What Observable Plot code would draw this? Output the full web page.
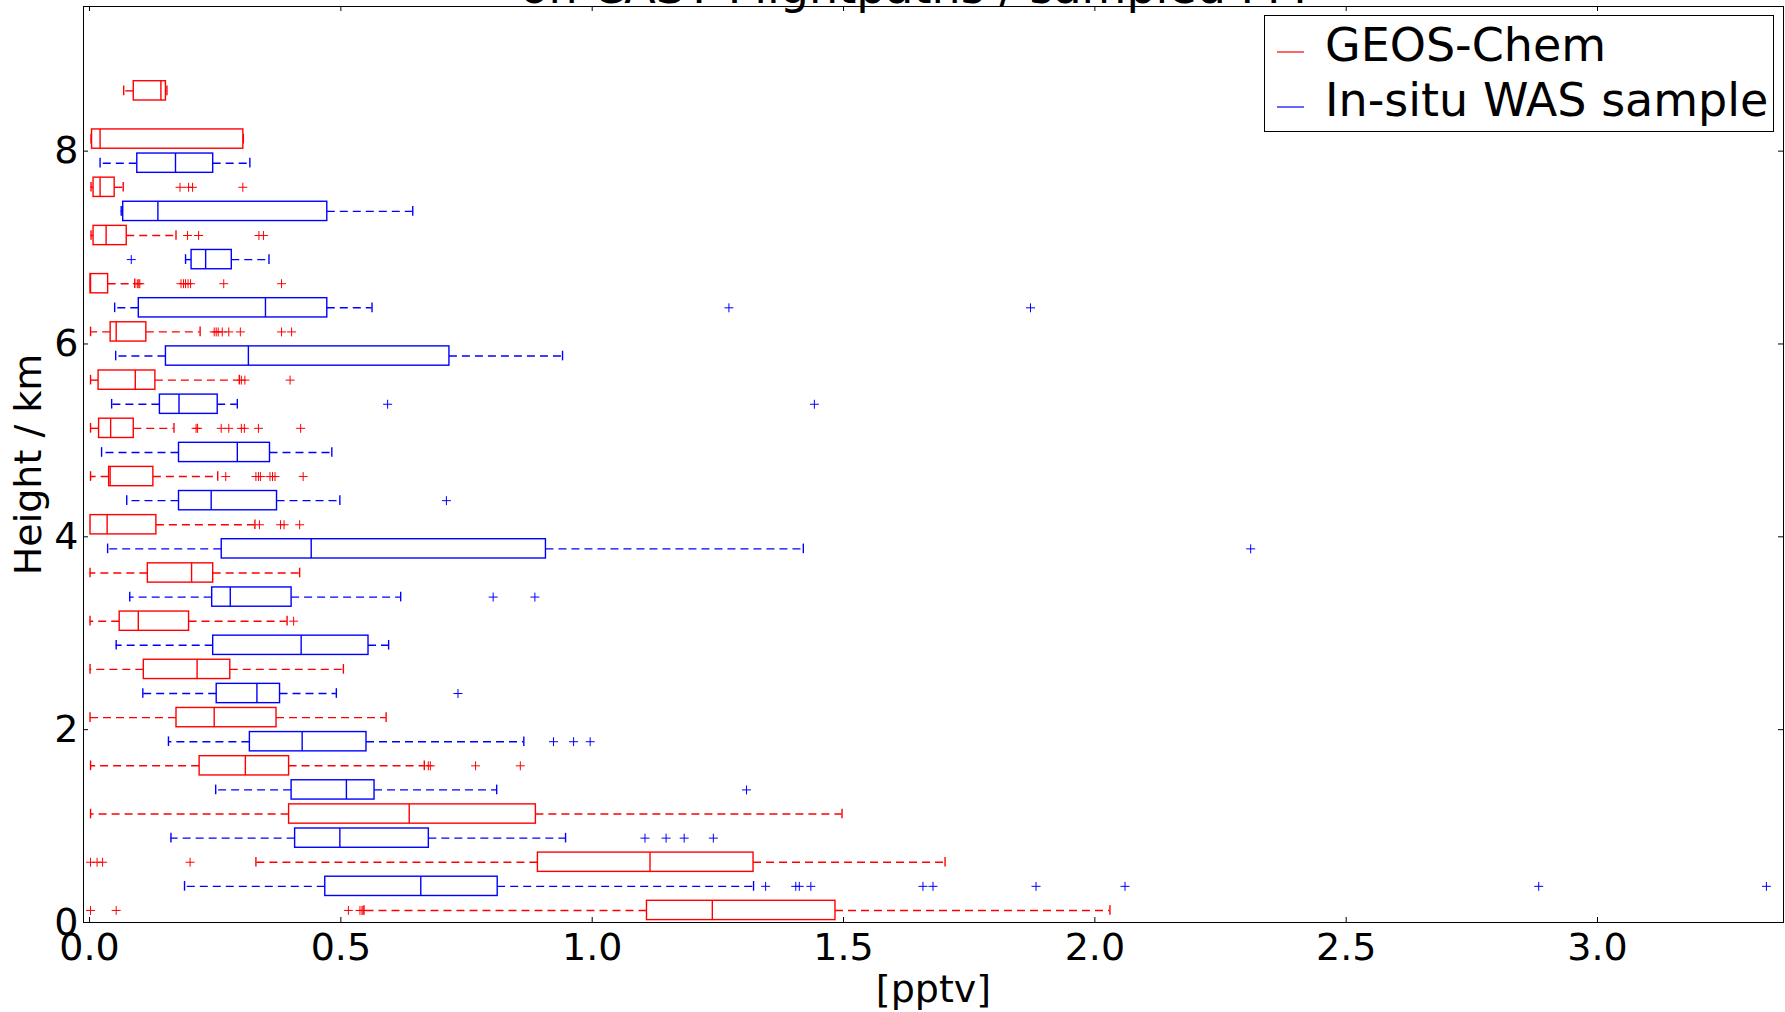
<!DOCTYPE html>
<html><head><meta charset="utf-8">
<script src="https://cdn.jsdelivr.net/npm/d3@7"></script>
<script src="https://cdn.jsdelivr.net/npm/@observablehq/plot@0.6"></script>
<style>
html,body{margin:0;padding:0;background:#fff;}
#chart{position:relative;width:1785px;height:1012px;overflow:hidden;}
</style></head><body><div id="chart"></div>
<script>
// ---------- DATA ----------
const titleText = "on CAST Flightpaths / sampled FM";
const xLabel = "[pptv]";
const yLabel = "Height / km";
const seriesNames = ["GEOS-Chem", "In-situ WAS sample"];
const xTicks = [0, 0.5, 1.0, 1.5, 2.0, 2.5, 3.0];
const yTicks = [0, 2, 4, 6, 8];

// altitude bins (km, lower edge of each 0.5 km bin)
const binBase = [0, 0.5, 1.0, 1.5, 2.0, 2.5, 3.0, 3.5, 4.0, 4.5, 5.0, 5.5, 6.0, 6.5, 7.0, 7.5, 8.0, 8.5];

// GEOS-Chem (red) box statistics per bin, bottom to top
const gcLow  = [0.546, 0.331, 0.002, 0.002, 0.001, 0.001, 0.001, 0.001, 0.002, 0.002, 0.002, 0.002, 0.002, 0.002, 0.003, 0.003, 0.003, 0.068];
const gcQ1   = [1.109, 0.892, 0.397, 0.219, 0.173, 0.108, 0.060, 0.116, 0.002, 0.039, 0.019, 0.018, 0.042, 0.002, 0.008, 0.008, 0.005, 0.088];
const gcMed  = [1.239, 1.115, 0.636, 0.310, 0.248, 0.214, 0.097, 0.203, 0.035, 0.041, 0.042, 0.091, 0.053, 0.002, 0.033, 0.021, 0.021, 0.142];
const gcQ3   = [1.484, 1.321, 0.888, 0.397, 0.372, 0.280, 0.198, 0.246, 0.133, 0.127, 0.088, 0.131, 0.113, 0.037, 0.074, 0.050, 0.306, 0.152];
const gcHigh = [2.030, 1.702, 1.497, 0.666, 0.590, 0.505, 0.393, 0.418, 0.329, 0.255, 0.168, 0.298, 0.220, 0.090, 0.172, 0.067, 0.306, 0.154];
const gcOutliers = [
  [0.002, 0.053, 0.515, 0.538, 0.542, 0.544],
  [0.002, 0.015, 0.026, 0.200],
  [],
  [0.674, 0.678, 0.768, 0.857],
  [],
  [],
  [0.406],
  [],
  [0.338, 0.380, 0.387, 0.418],
  [0.271, 0.331, 0.336, 0.340, 0.359, 0.364, 0.369, 0.425],
  [0.212, 0.215, 0.262, 0.277, 0.302, 0.308, 0.336, 0.420],
  [0.302, 0.309, 0.399],
  [0.248, 0.252, 0.256, 0.264, 0.277, 0.300, 0.382, 0.402],
  [0.095, 0.098, 0.100, 0.182, 0.187, 0.191, 0.196, 0.201, 0.267, 0.382],
  [0.195, 0.217, 0.337, 0.346],
  [0.180, 0.197, 0.205, 0.305],
  [],
  []
];

// In-situ WAS (blue) box statistics per bin, bottom to top (no sample in top bin)
const wasLow  = [0.189, 0.162, 0.251, 0.157, 0.106, 0.053, 0.080, 0.036, 0.074, 0.024, 0.044, 0.052, 0.050, 0.191, 0.063, 0.021];
const wasQ1   = [0.469, 0.409, 0.402, 0.319, 0.253, 0.246, 0.244, 0.263, 0.178, 0.178, 0.140, 0.152, 0.098, 0.203, 0.067, 0.095];
const wasMed  = [0.659, 0.498, 0.511, 0.423, 0.333, 0.421, 0.280, 0.441, 0.242, 0.294, 0.178, 0.316, 0.350, 0.231, 0.136, 0.171];
const wasQ3   = [0.812, 0.675, 0.567, 0.551, 0.379, 0.555, 0.402, 0.908, 0.373, 0.359, 0.255, 0.716, 0.473, 0.283, 0.473, 0.246];
const wasHigh = [1.321, 0.947, 0.810, 0.864, 0.491, 0.595, 0.619, 1.420, 0.498, 0.482, 0.294, 0.941, 0.562, 0.357, 0.643, 0.319];
const wasOutliers = [
  [1.345, 1.405, 1.412, 1.435, 1.658, 1.678, 1.883, 2.060, 2.883, 3.336],
  [1.105, 1.147, 1.183, 1.241],
  [1.307],
  [0.923, 0.963, 0.996],
  [0.733],
  [],
  [0.803, 0.886],
  [2.310],
  [0.710],
  [],
  [0.593, 1.442],
  [],
  [1.272, 1.872],
  [0.083],
  [],
  []
];

// ---------- LAYOUT ----------
const W = 1785, H = 1012;
const mL = 83, mR = 2, mT = 6, mB = 90;
const xDomain = [-0.012, 3.37];
const yDomain = [0, 9.5];
const RED = "#ff0000", BLUE = "#0000ff";
const boxHalf = 0.1, capHalf = 0.05;
const LW = 1.4;
const FONT = "DejaVu Sans, Bitstream Vera Sans, sans-serif";

function rows(offset, low, q1, med, q3, high) {
  return low.map((v, i) => ({pos: binBase[i] + offset, low: v, q1: q1[i], med: med[i], q3: q3[i], high: high[i]}));
}
function outRows(offset, outl) {
  const r = [];
  outl.forEach((arr, i) => arr.forEach(v => r.push({pos: binBase[i] + offset, v})));
  return r;
}
function seriesMarks(data, outs, color) {
  return [
    Plot.ruleY(data, {y: "pos", x1: "q1", x2: "low", stroke: color, strokeWidth: LW, strokeDasharray: "8,5"}),
    Plot.ruleY(data, {y: "pos", x1: "q3", x2: "high", stroke: color, strokeWidth: LW, strokeDasharray: "8,5"}),
    Plot.ruleX(data, {x: "low", y1: d => d.pos - capHalf, y2: d => d.pos + capHalf, stroke: color, strokeWidth: LW}),
    Plot.ruleX(data, {x: "high", y1: d => d.pos - capHalf, y2: d => d.pos + capHalf, stroke: color, strokeWidth: LW}),
    Plot.rect(data, {x1: "q1", x2: "q3", y1: d => d.pos - boxHalf, y2: d => d.pos + boxHalf, stroke: color, fill: "white", strokeWidth: LW}),
    Plot.ruleX(data, {x: "med", y1: d => d.pos - boxHalf, y2: d => d.pos + boxHalf, stroke: color, strokeWidth: LW}),
    Plot.dot(outs, {x: "v", y: "pos", symbol: "plus", r: 3, stroke: color, strokeWidth: 1})
  ];
}

const gcRows = rows(0.125, gcLow, gcQ1, gcMed, gcQ3, gcHigh);
const wasRows = rows(0.375, wasLow, wasQ1, wasMed, wasQ3, wasHigh);
const gcOut = outRows(0.125, gcOutliers);
const wasOut = outRows(0.375, wasOutliers);

const tickLenY = 5 / ((H - mT - mB) / (yDomain[1] - yDomain[0]));
const tickLenX = 5 / ((W - mL - mR) / (xDomain[1] - xDomain[0]));

const plot = Plot.plot({
  width: W, height: H,
  marginLeft: mL, marginRight: mR, marginTop: mT, marginBottom: mB,
  x: {domain: xDomain},
  y: {domain: yDomain},
  style: {fontFamily: FONT, fontSize: "38px", color: "black", background: "white", overflow: "hidden"},
  marks: [
    ...seriesMarks(gcRows, gcOut, RED),
    ...seriesMarks(wasRows, wasOut, BLUE),
    // inward ticks
    Plot.ruleX(xTicks, {x: d => d, y1: yDomain[0], y2: yDomain[0] + tickLenY, stroke: "black", strokeWidth: 1}),
    Plot.ruleX(xTicks, {x: d => d, y1: yDomain[1] - tickLenY, y2: yDomain[1], stroke: "black", strokeWidth: 1}),
    Plot.ruleY(yTicks, {y: d => d, x1: xDomain[0], x2: xDomain[0] + tickLenX, stroke: "black", strokeWidth: 1}),
    Plot.ruleY(yTicks, {y: d => d, x1: xDomain[1] - tickLenX, x2: xDomain[1], stroke: "black", strokeWidth: 1}),
    Plot.frame({stroke: "black", strokeWidth: 1}),
    Plot.axisX({ticks: xTicks, tickFormat: d3.format(".1f"), tickSize: 0, tickPadding: 11, label: null, fontSize: 38}),
    Plot.axisY({ticks: yTicks, tickFormat: d => String(d), tickSize: 0, tickPadding: 5, label: null, fontSize: 38}),
    Plot.text([xLabel], {frameAnchor: "bottom", dy: 79, fontSize: 38, textAnchor: "middle"}),
    Plot.text([yLabel], {frameAnchor: "left", rotate: -90, dx: -55, fontSize: 38, textAnchor: "middle"}),
    Plot.text([titleText], {frameAnchor: "top", lineAnchor: "bottom", dy: -4, dx: -20, fontSize: 46, textAnchor: "middle"})
  ]
});

// legend (upper right, inside axes)
const svg = d3.select(plot);
const lg = svg.append("g").attr("font-family", FONT).attr("text-anchor", "start");
lg.append("rect").attr("x", 1264.5).attr("y", 15.5).attr("width", 509).attr("height", 116)
  .attr("fill", "white").attr("stroke", "black").attr("stroke-width", 1);
[RED, BLUE].forEach((c, i) => {
  const cy = 52 + i * 55;
  lg.append("line").attr("x1", 1277).attr("x2", 1304).attr("y1", cy).attr("y2", cy)
    .attr("stroke", c).attr("stroke-width", 1.2);
  lg.append("text").attr("x", 1325).attr("y", cy + 9).attr("font-size", 46).attr("fill", "black")
    .attr("text-anchor", "start").text(seriesNames[i]);
});

document.getElementById("chart").appendChild(plot);
</script>
</body></html>
